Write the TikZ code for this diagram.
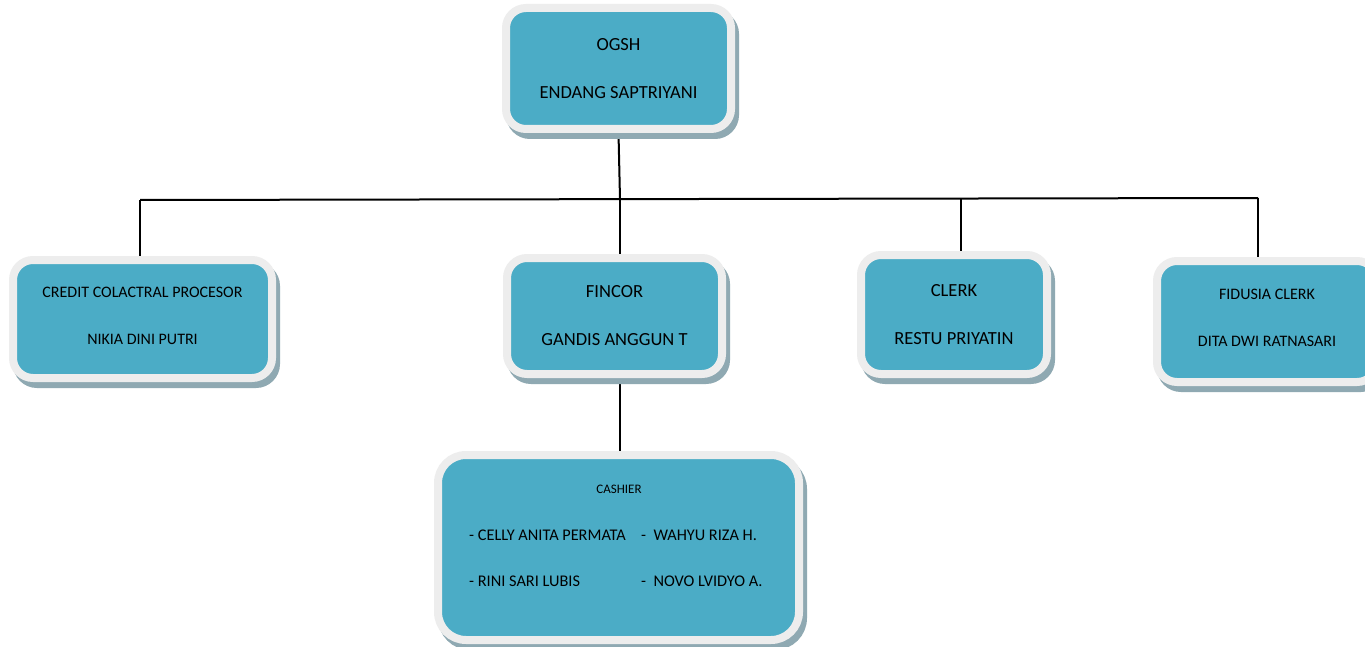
\documentclass[tikz,border=0pt]{standalone}
\usepackage{fontspec}
\setmainfont{Carlito}
\usepackage{xcolor}
\usetikzlibrary{positioning,calc,backgrounds}

\definecolor{boxteal}{HTML}{4BACC6}
\definecolor{boxframe}{HTML}{EDEDED}
\definecolor{boxshade}{HTML}{8FA9B2}

\tikzset{
  orgbox/.style={rectangle, rounded corners=20pt, fill=boxteal, draw=boxframe,
    line width=8pt, inner sep=0pt, align=center,
    preaction={draw=boxshade, fill=boxshade, transform canvas={shift={(4,6)}}}},
  bigtext/.style={font=\fontsize{18.5}{48}\selectfont},
  smalltext/.style={font=\fontsize{16}{47}\selectfont},
  link/.style={draw=black, line width=2pt},
}

\begin{document}
\begin{tikzpicture}[x=1pt, y=-1pt]
    \useasboundingbox (0,0) rectangle (1365,647);

    % Boxes
    \node[orgbox, bigtext, minimum width=225pt, minimum height=121pt] (ogsh) at (618.5,68.5) {OGSH\\ENDANG SAPTRIYANI};
    \node[orgbox, smalltext, text depth=6pt, minimum width=259pt, minimum height=118pt] (credit) at (142.5,319) {CREDIT COLACTRAL PROCESOR\\NIKIA DINI PUTRI};
    \node[orgbox, bigtext, minimum width=215pt, minimum height=116pt] (fincor) at (614.5,316) {FINCOR\\GANDIS ANGGUN T};
    \node[orgbox, bigtext, minimum width=186pt, minimum height=119pt] (clerk) at (954,314.5) {CLERK\\RESTU PRIYATIN};
    \node[orgbox, smalltext, text depth=8pt, minimum width=220pt, minimum height=121pt] (fidusia) at (1267,321.5) {FIDUSIA CLERK\\DITA DWI RATNASARI};

    % Cashier
    \node[orgbox, rounded corners=28pt, minimum width=361pt, minimum height=185pt] (cashier) at (618.5,547.5) {};
    \node[font=\fontsize{13}{13}\selectfont] (cashtitle) at (619,489) {CASHIER};
    \node[anchor=west, inner sep=0pt, font=\fontsize{16.3}{46}\selectfont] (cashstaff) at (469,554)
        {\begin{tabular}{@{}p{172pt}@{}l@{}}
          - CELLY ANITA PERMATA & -\ \ WAHYU RIZA H.\\
          - RINI SARI LUBIS & -\ \ NOVO LVIDYO A.
        \end{tabular}};

    % Connectors
    \begin{scope}[on background layer]
        \fill[white] (0,0) rectangle (1365,647);
        \coordinate (hl) at (140,200);
        \coordinate (hr) at (1258,198);
        \coordinate (jf) at (620,199.2);
        \coordinate (jc) at (961,198.6);
        \draw[link] (hl) -- (hr);
        \draw[link] (ogsh.south) -- (jf);
        \draw[link] (hl) -- (hl |- credit.north);
        \draw[link] (jf) -- (jf |- fincor.north);
        \draw[link] (jc) -- (jc |- clerk.north);
        \draw[link] (hr) -- (hr |- fidusia.north);
        \draw[link] (fincor.south -| jf) -- (cashier.north -| jf);
    \end{scope}
\end{tikzpicture}
\end{document}
